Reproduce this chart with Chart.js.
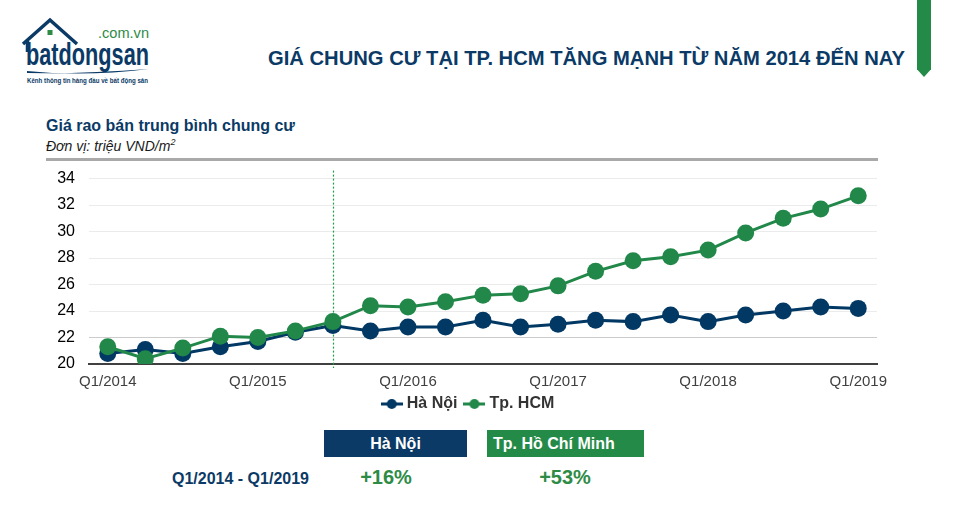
<!DOCTYPE html>
<html>
<head>
<meta charset="utf-8">
<script src="https://cdn.jsdelivr.net/npm/chart.js@4.4.1/dist/chart.umd.min.js"></script>
<style>
  body { margin: 0; width: 957px; height: 510px; position: relative; background: #fff; overflow: hidden;
         font-family: "Liberation Sans", Arial, sans-serif; }
  .abs { position: absolute; white-space: nowrap; }
  #title { left: 268px; top: 47px; font-size: 20.2px; font-weight: bold; color: #0b3a66; }
  #sub1 { left: 46px; top: 117px; font-size: 16px; font-weight: bold; color: #0b3a66; }
  #sub2 { left: 46px; top: 137px; font-size: 14px; font-style: italic; color: #1a1a1a; }
  #sub2 sup { font-size: 9px; }
  #rule { left: 46px; top: 158px; width: 832px; height: 3px; background: #a9a9a9; }
  #flag { left: 917px; top: 0; width: 14px; height: 77px; background: #238a47;
          clip-path: polygon(0 0, 100% 0, 100% 90%, 50% 100%, 0 90%); }
  #chartBox { left: 0; top: 155px; }
  .box { position: absolute; top: 430px; height: 27px; line-height: 27px; color: #fff; font-weight: bold; font-size: 16px; }
  #boxHN { left: 324px; width: 143px; background: #0b3a66; text-align: center; }
  #boxHCM { left: 487px; width: 151px; padding-left: 6px; background: #238a47; }
  #period { left: 172px; top: 470px; font-size: 16px; font-weight: bold; color: #0b3a66; }
  .pct { top: 466px; font-size: 20px; font-weight: bold; color: #2e8b46; transform: translateX(-50%); }
</style>
</head>
<body>

<svg class="abs" style="left:0;top:0" width="170" height="95">
  <path d="M23 44 L50 20 L77 44" fill="none" stroke="#0b3a66" stroke-width="3.5" stroke-linejoin="miter"/>
  <path d="M27.5 41 L27.5 52" stroke="#0b3a66" stroke-width="3.5"/>
  <rect x="47.5" y="30" width="5" height="5" fill="#2e8b46"/>
  <text x="98" y="38" font-family="Liberation Sans, Arial" font-size="15.5" fill="#2e8b46" textLength="51" lengthAdjust="spacingAndGlyphs">.com.vn</text>
  <text x="26" y="65" font-family="Liberation Sans Narrow, Liberation Sans, Arial" font-size="31" font-weight="bold" fill="#0b3a66" textLength="123" lengthAdjust="spacingAndGlyphs">batdongsan</text>
  <path d="M27 71 Q85 77 149 69 Q85 74 27 73 Z" fill="#0b3a66"/>
  <text x="27" y="83" font-family="Liberation Sans, Arial" font-size="6.5" font-weight="bold" fill="#0b3a66" textLength="121" lengthAdjust="spacingAndGlyphs">Kênh thông tin hàng đầu về bất động sản</text>
</svg>

<div id="flag" class="abs"></div>
<div id="title" class="abs">GIÁ CHUNG CƯ TẠI TP. HCM TĂNG MẠNH TỪ NĂM 2014 ĐẾN NAY</div>
<div id="sub1" class="abs">Giá rao bán trung bình chung cư</div>
<div id="sub2" class="abs">Đơn vị: triệu VND/m<sup>2</sup></div>
<div id="rule" class="abs"></div>

<div id="chartBox" class="abs"><canvas id="priceChart" width="940" height="281"></canvas></div>

<div id="boxHN" class="box">Hà Nội</div>
<div id="boxHCM" class="box">Tp. Hồ Chí Minh</div>
<div id="period" class="abs">Q1/2014 - Q1/2019</div>
<div class="abs pct" style="left:386px">+16%</div>
<div class="abs pct" style="left:565px">+53%</div>

<script>
const quarters = ['Q1/2014', 'Q2/2014', 'Q3/2014', 'Q4/2014',
                  'Q1/2015', 'Q2/2015', 'Q3/2015', 'Q4/2015',
                  'Q1/2016', 'Q2/2016', 'Q3/2016', 'Q4/2016',
                  'Q1/2017', 'Q2/2017', 'Q3/2017', 'Q4/2017',
                  'Q1/2018', 'Q2/2018', 'Q3/2018', 'Q4/2018',
                  'Q1/2019'];
const haNoi = [20.8, 21.1, 20.8, 21.3, 21.7, 22.4, 22.9, 22.5, 22.8, 22.8, 23.3,
               22.8, 23.0, 23.3, 23.2, 23.7, 23.2, 23.7, 24.0, 24.3, 24.2];
const hcm = [21.3, 20.4, 21.2, 22.1, 22.0, 22.5, 23.2, 24.4, 24.3, 24.7, 25.2,
             25.3, 25.9, 27.0, 27.8, 28.1, 28.6, 29.9, 31.0, 31.7, 32.7];
const seriesNames = ['Hà Nội', 'Tp. HCM'];
const markerQuarter = 'Q3/2015';

const NAVY = '#013864';
const GREEN = '#22884a';
const colors = [NAVY, GREEN];

// legend symbol: short line with a dot in the middle
function legendIcon(color) {
    const c = document.createElement('canvas');
    c.width = 22; c.height = 12;
    const g = c.getContext('2d');
    g.strokeStyle = color; g.lineWidth = 3;
    g.beginPath(); g.moveTo(0, 6); g.lineTo(22, 6); g.stroke();
    g.fillStyle = color;
    g.beginPath(); g.arc(11, 6, 5, 0, Math.PI * 2); g.fill();
    return c;
}

// dotted green marker line at the chosen quarter
const markerLine = {
    id: 'markerLine',
    beforeDatasetsDraw(chart) {
        const x = chart.scales.x.getPixelForValue(quarters.indexOf(markerQuarter));
        const { top, bottom } = chart.chartArea;
        const ctx = chart.ctx;
        ctx.save();
        ctx.strokeStyle = '#1f9e44';
        ctx.lineWidth = 1.2;
        ctx.setLineDash([2, 2]);
        ctx.beginPath();
        ctx.moveTo(Math.round(x) + 0.5, top - 8);
        ctx.lineTo(Math.round(x) + 0.5, bottom + 4);
        ctx.stroke();
        ctx.restore();
    }
};

// nudge the legend: centre it on the page and pull it closer to the axis
const legendNudge = {
    id: 'legendNudge',
    afterLayout(chart) {
        const lg = chart.legend;
        lg.left += 31; lg.right += 31;
        lg.top -= 14; lg.bottom -= 14;
    }
};

new Chart(document.getElementById('priceChart').getContext('2d'), {
    type: 'line',
    data: {
        labels: quarters,
        datasets: [{
            label: seriesNames[0],
            data: haNoi,
            borderColor: NAVY,
            backgroundColor: NAVY,
            borderWidth: 3,
            pointRadius: 8.5,
            pointBorderWidth: 0,
            pointHoverRadius: 8.5,
            order: 1
        }, {
            label: seriesNames[1],
            data: hcm,
            borderColor: GREEN,
            backgroundColor: GREEN,
            borderWidth: 3,
            pointRadius: 8.5,
            pointBorderWidth: 0,
            pointHoverRadius: 8.5,
            order: 0
        }]
    },
    options: {
        responsive: false,
        animation: false,
        devicePixelRatio: 1,
        layout: { padding: { top: 12, right: 63, left: 0, bottom: 0 } },
        plugins: {
            tooltip: { enabled: false },
            legend: {
                position: 'bottom',
                labels: {
                    usePointStyle: true,
                    pointStyleWidth: 14,
                    padding: 10,
                    color: '#333',
                    font: { family: 'Liberation Sans', size: 16, weight: 'bold' },
                    sort: (a, b) => a.datasetIndex - b.datasetIndex,
                    generateLabels(chart) {
                        const items = Chart.defaults.plugins.legend.labels.generateLabels(chart);
                        items.forEach(it => { it.pointStyle = legendIcon(colors[it.datasetIndex]); });
                        return items;
                    }
                }
            }
        },
        scales: {
            x: {
                offset: true,
                grid: { display: false, drawTicks: false },
                border: { color: '#404040', width: 2 },
                ticks: {
                    autoSkip: false,
                    maxRotation: 0,
                    padding: 9,
                    color: '#404040',
                    font: { family: 'Liberation Sans', size: 15 },
                    callback: (v, i) => i % 4 === 0 ? quarters[i] : ''
                }
            },
            y: {
                min: 20,
                max: 34,
                afterFit: s => { s.width = 89; },
                border: { display: false },
                grid: {
                    drawTicks: false,
                    color: c => c.tick.value === 22 ? '#cccccc' : '#ebebeb'
                },
                ticks: {
                    stepSize: 2,
                    padding: 14,
                    color: '#000',
                    font: { family: 'Liberation Sans', size: 16 }
                }
            }
        }
    },
    plugins: [markerLine, legendNudge]
});
</script>
</body>
</html>
